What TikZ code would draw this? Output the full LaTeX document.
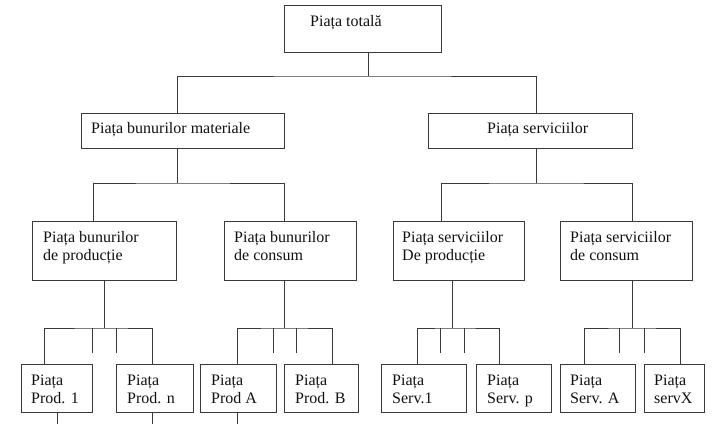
\documentclass[tikz,border=0pt]{standalone}
\usepackage{fontspec}
\setmainfont{Liberation Serif}
\usepackage{tikz}
\usetikzlibrary{positioning,calc}
\definecolor{MktLine}{HTML}{3A3A3A}
\definecolor{MktInk}{HTML}{111111}
\tikzset{
  mktbox/.style={draw=MktLine, line width=0.9pt, anchor=north west, inner sep=0pt, fill=white},
  mkttext/.style={font=\fontsize{16}{18}\selectfont, text=MktInk, anchor=north west, align=left, inner sep=0pt},
  mktlink/.style={draw=MktLine, line width=0.9pt}
}

\begin{document}
\begin{tikzpicture}[x=1pt, y=-1pt]
\useasboundingbox[fill=white] (0,0) rectangle (722,424);
% boxes
\node[mktbox, minimum width=157, minimum height=47] (tot) at (284,5) {};
\node[mktbox, minimum width=203, minimum height=35] (mat) at (81,113) {};
\node[mktbox, minimum width=204, minimum height=35] (serv) at (428,113) {};
\node[mktbox, minimum width=144, minimum height=59] (bp) at (32,221) {};
\node[mktbox, minimum width=132, minimum height=59] (bc) at (224,221) {};
\node[mktbox, minimum width=131, minimum height=59] (sp) at (393,221) {};
\node[mktbox, minimum width=132, minimum height=59] (sc) at (560,221) {};
\node[mktbox, minimum width=71, minimum height=48] (p1) at (21,364) {};
\node[mktbox, minimum width=77, minimum height=48] (pn) at (116,364) {};
\node[mktbox, minimum width=76, minimum height=48] (pA) at (200,364) {};
\node[mktbox, minimum width=74, minimum height=48] (pB) at (284,364) {};
\node[mktbox, minimum width=85, minimum height=48] (s1) at (381,364) {};
\node[mktbox, minimum width=75, minimum height=48] (sp2) at (476,364) {};
\node[mktbox, minimum width=75, minimum height=48] (sA) at (560,364) {};
\node[mktbox, minimum width=60, minimum height=48] (sX) at (644,364) {};
% texts
\node[mkttext] (tot-t) at (310,15) {Piața totală};
\node[mkttext] (mat-t) at (91,122) {Piața bunurilor materiale};
\node[mkttext] (serv-t) at (487,122) {Piața serviciilor};
\node[mkttext] (bp-t) at (43,231) {Piața bunurilor\\de producție};
\node[mkttext] (bc-t) at (234,231) {Piața bunurilor\\de consum};
\node[mkttext] (sp-t) at (402,231) {Piața serviciilor\\De producție};
\node[mkttext] (sc-t) at (570,231) {Piața serviciilor\\de consum};
\node[mkttext] (p1-t) at (31,375) {Piața\\Prod. 1};
\node[mkttext] (pn-t) at (127,375) {Piața\\Prod. n};
\node[mkttext] (pA-t) at (211,375) {Piața\\Prod A};
\node[mkttext] (pB-t) at (295,375) {Piața\\Prod. B};
\node[mkttext] (s1-t) at (392,375) {Piața\\Serv.1};
\node[mkttext] (sp2-t) at (487,375) {Piața\\Serv. p};
\node[mkttext] (sA-t) at (570,375) {Piața\\Serv. A};
\node[mkttext] (sX-t) at (654,375) {Piața\\servX};
% junctions
\coordinate (j0) at (368,76);
\coordinate (j1) at (177,183);
\coordinate (j2) at (536,183);
\coordinate (j3) at (104,328);
\coordinate (j4) at (284,328);
\coordinate (j5) at (452,328);
\coordinate (j6) at (632,328);
% links
\draw[mktlink] (tot.south -| j0) -- (j0);
\draw[mktlink] (mat.north -| j1) |- (j0) -| (serv.north -| j2);
\draw[mktlink] (mat.south -| j1) -- (j1);
\draw[mktlink] ([xshift=-11]bp.north) |- (j1) -| ([xshift=-6]bc.north);
\draw[mktlink] (serv.south -| j2) -- (j2);
\draw[mktlink] ([xshift=-17.5]sp.north) |- (j2) -| ([xshift=6]sc.north);
\draw[mktlink] (bp.south -| j3) -- (j3);
\draw[mktlink] ([xshift=-12.5]p1.north) |- (j3) -| ([xshift=-2.5]pn.north);
\draw[mktlink] (bc.south -| j4) -- (j4);
\draw[mktlink] ([xshift=-1]pA.north) |- (j4) -| ([xshift=11]pB.north);
\draw[mktlink] (sp.south -| j5) -- (j5);
\draw[mktlink] ([xshift=-6.5]s1.north) |- (j5) -| ([xshift=-14.5]sp2.north);
\draw[mktlink] (sc.south -| j6) -- (j6);
\draw[mktlink] ([xshift=-13.5]sA.north) |- (j6) -| ([xshift=6]sX.north);
% stubs
\foreach \x/\j in {92/j3,116/j3,273/j4,296/j4,440/j5,464/j5,619/j6,644/j6}
  \draw[mktlink] (\x,0 |- \j) -- ++(0,25);
% lines leaving the picture
\coordinate (e1) at (57,424);
\coordinate (e2) at (152,424);
\coordinate (e3) at (237,424);
\draw[mktlink] (p1.south -| e1) -- (e1);
\draw[mktlink] (pn.south -| e2) -- (e2);
\draw[mktlink] (pA.south -| e3) -- (e3);
\end{tikzpicture}
\end{document}
